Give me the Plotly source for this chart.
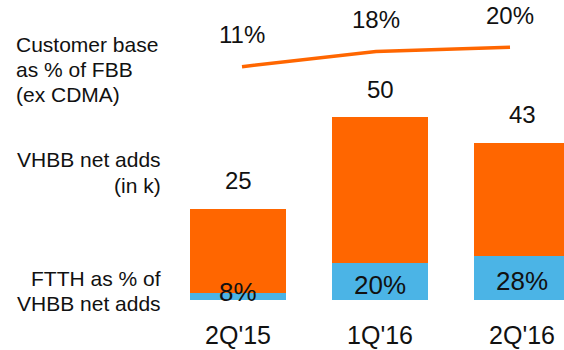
import plotly.graph_objects as go

# Quarterly VHBB net adds (thousands), FTTH share of those adds (%),
# and VHBB customer base as a share of fixed broadband ex CDMA (%)
quarters = ["2Q'15", "1Q'16", "2Q'16"]
vhbb_net_adds = [25, 50, 43]
ftth_share = [8, 20, 28]
customer_base_share = [11, 18, 20]

left_block_1 = ["Customer base", "as % of FBB", "(ex CDMA)"]
left_block_2 = ["VHBB net adds", "(in k)"]
left_block_3 = ["FTTH as % of", "VHBB net adds"]

ftth_adds = [t * s / 100 for t, s in zip(vhbb_net_adds, ftth_share)]
other_adds = [t - f for t, f in zip(vhbb_net_adds, ftth_adds)]

ORANGE = "#FF6600"
BLUE = "#4BB4E6"
INK = "#111111"
FONT = "Liberation Sans, Arial, Helvetica, sans-serif"
W, H = 564, 350

fig = go.Figure()
fig.add_bar(x=quarters, y=ftth_adds, marker_color=BLUE, marker_line_width=0,
            hoverinfo="skip")
fig.add_bar(x=quarters, y=other_adds, marker_color=ORANGE, marker_line_width=0,
            hoverinfo="skip")
fig.add_scatter(x=quarters, y=customer_base_share, mode="lines",
                line=dict(color=ORANGE, width=3.5, shape="linear"),
                xaxis="x2", yaxis="y2", hoverinfo="skip")

ann = []
# totals above bars
for q, t in zip(quarters, vhbb_net_adds):
    ann.append(dict(x=q, y=t, xref="x", yref="y", yshift=28, text=str(t),
                    showarrow=False, font=dict(size=24, color=INK)))
# FTTH share in the blue segment (kept clear of the baseline)
for q, f, s in zip(quarters, ftth_adds, ftth_share):
    ann.append(dict(x=q, y=max(f / 2, 3.0), xref="x", yref="y", yshift=-3,
                    text=f"{s}%", showarrow=False,
                    font=dict(size=26, color=INK)))
# customer base share above the line
for q, v in zip(quarters, customer_base_share):
    ann.append(dict(x=q, y=v, xref="x2", yref="y2", yshift=32, text=f"{v}%",
                    showarrow=False, font=dict(size=24, color=INK)))

# row captions on the left
def caption(lines, top_px, x_px, anchor):
    for i, line in enumerate(lines):
        ann.append(dict(x=x_px / W, y=1 - (top_px + 25 * i) / H,
                        xref="paper", yref="paper", xanchor=anchor,
                        yanchor="middle", text=line, showarrow=False,
                        font=dict(size=21, color=INK)))

caption(left_block_1, 45, 14, "left")
caption(left_block_2, 160, 163, "right")
caption(left_block_3, 278, 163, "right")

fig.update_layout(
    width=W, height=H,
    margin=dict(l=0, r=0, t=0, b=0, autoexpand=False),
    paper_bgcolor="white", plot_bgcolor="white",
    font=dict(family=FONT, color=INK),
    barmode="stack", bargap=0.324, showlegend=False,
    xaxis=dict(type="category", range=[-238 / 142, (W - 238) / 142],
               showgrid=False, zeroline=False, showline=False,
               automargin=False,
               ticks="outside", ticklen=13, tickcolor="rgba(0,0,0,0)",
               tickfont=dict(size=25, color=INK), fixedrange=True),
    yaxis=dict(domain=[50 / H, 1], range=[0, 300 / 3.66], visible=False,
               automargin=False, fixedrange=True),
    xaxis2=dict(type="category", overlaying="x", anchor="y2",
                range=[-242 / 134, (W - 242) / 134], visible=False),
    yaxis2=dict(overlaying="y", range=[(90.4 - 300) / 2.156, 90.4 / 2.156],
                visible=False),
    annotations=ann,
)

fig.write_html("out.html")
